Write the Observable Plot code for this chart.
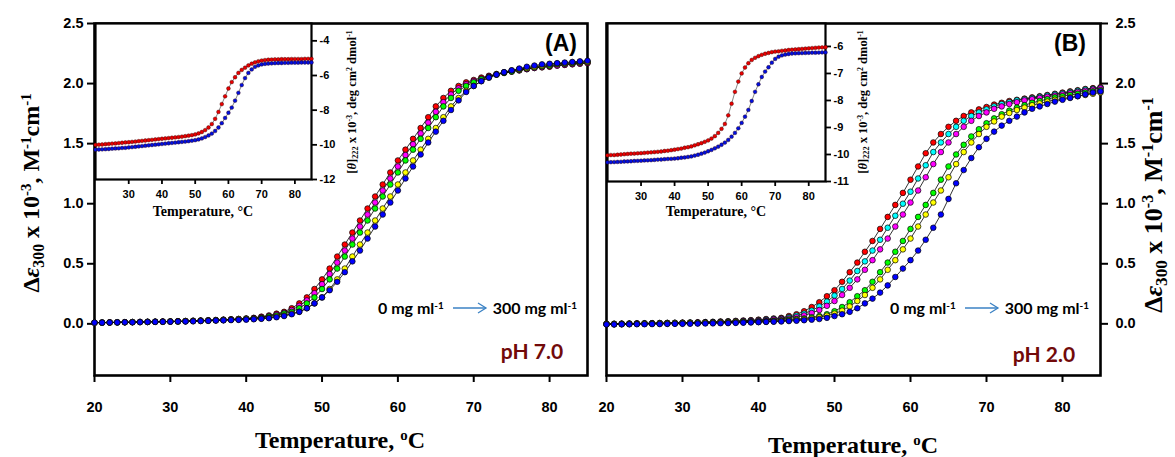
<!DOCTYPE html>
<html><head><meta charset="utf-8">
<script src="https://cdn.jsdelivr.net/npm/d3@7"></script>
<script src="https://cdn.jsdelivr.net/npm/@observablehq/plot@0.6"></script>
<style>
body{margin:0;background:#fff;}
#page{position:relative;width:1175px;height:457px;overflow:hidden;background:#fff;color:#000;font-family:"Liberation Sans",Arial,sans-serif;}
#page svg{position:absolute;top:0;}
.lbl{position:absolute;white-space:nowrap;line-height:1;transform:translate(-50%,-50%);}
.rot{transform:translate(-50%,-50%) rotate(-90deg);}
.serif{font-family:"Liberation Serif","Times New Roman",serif;font-weight:bold;}
.cal{font-family:Lato,"Open Sans",sans-serif;font-weight:bold;}
.lbl sup{font-size:0.62em;vertical-align:0.55em;line-height:0;}
.lbl sub{font-size:0.66em;vertical-align:-0.3em;line-height:0;}
</style></head><body><div id="page"></div>
<script>
// temperature grid (°C)
const temps = d3.range(20, 86);
const xTicksMain = [20, 30, 40, 50, 60, 70, 80];
const yTicksMain = [0, 0.5, 1.0, 1.5, 2.0, 2.5];
const xTicksInset = [30, 40, 50, 60, 70, 80];
const yTicksInsetA = [-12, -10, -8, -6, -4];
const yTicksInsetB = [-11, -10, -9, -8, -7, -6];

// Panel A (pH 7.0), Δε300 x 10^-3
const redA = [0.010,0.011,0.012,0.013,0.014,0.015,0.016,0.017,0.018,0.019,
0.020,0.022,0.024,0.026,0.028,0.030,0.032,0.035,0.038,0.041,
0.045,0.050,0.060,0.070,0.085,0.100,0.130,0.170,0.220,0.290,
0.37,0.46,0.56,0.66,0.76,0.86,0.96,1.06,1.16,1.26,
1.36,1.45,1.54,1.63,1.72,1.81,1.88,1.94,1.98,2.01,
2.03,2.05,2.065,2.08,2.09,2.10,2.11,2.12,2.13,2.135,
2.14,2.15,2.155,2.16,2.165,2.17];
const magentaA = [0.010,0.011,0.012,0.013,0.014,0.015,0.016,0.017,0.018,0.019,
0.020,0.021,0.023,0.025,0.027,0.029,0.031,0.034,0.037,0.040,
0.043,0.048,0.055,0.065,0.078,0.092,0.115,0.150,0.195,0.255,
0.33,0.415,0.51,0.61,0.71,0.81,0.91,1.01,1.11,1.21,
1.31,1.405,1.495,1.585,1.675,1.765,1.845,1.91,1.96,1.995,
2.02,2.04,2.06,2.075,2.088,2.10,2.11,2.12,2.13,2.137,
2.145,2.15,2.157,2.163,2.168,2.173];
const greenA = [0.010,0.010,0.011,0.012,0.013,0.014,0.015,0.016,0.017,0.018,
0.019,0.020,0.022,0.024,0.026,0.028,0.030,0.032,0.035,0.038,
0.041,0.045,0.050,0.060,0.070,0.085,0.100,0.130,0.170,0.220,
0.29,0.37,0.46,0.56,0.66,0.76,0.86,0.96,1.06,1.16,
1.26,1.36,1.45,1.54,1.63,1.72,1.81,1.88,1.94,1.98,
2.01,2.035,2.055,2.075,2.09,2.10,2.115,2.125,2.135,2.145,
2.15,2.16,2.165,2.17,2.175,2.18];
const yellowA = [0.010,0.010,0.011,0.012,0.013,0.014,0.015,0.016,0.017,0.018,
0.019,0.020,0.021,0.023,0.025,0.027,0.029,0.031,0.034,0.037,
0.040,0.041,0.045,0.050,0.060,0.070,0.085,0.100,0.130,0.170,
0.22,0.29,0.37,0.46,0.56,0.66,0.76,0.86,0.96,1.06,
1.16,1.26,1.36,1.45,1.54,1.63,1.72,1.81,1.88,1.94,
1.98,2.02,2.05,2.075,2.095,2.11,2.12,2.13,2.14,2.15,
2.16,2.165,2.17,2.175,2.18,2.182];
const blueA = [0.010,0.010,0.011,0.012,0.013,0.013,0.014,0.015,0.016,0.017,
0.018,0.019,0.020,0.021,0.023,0.025,0.027,0.029,0.031,0.033,
0.035,0.038,0.042,0.047,0.055,0.065,0.080,0.100,0.130,0.170,
0.22,0.28,0.35,0.43,0.52,0.61,0.71,0.81,0.91,1.01,
1.11,1.21,1.31,1.41,1.51,1.60,1.69,1.78,1.86,1.93,
1.98,2.02,2.05,2.075,2.095,2.11,2.125,2.14,2.15,2.16,
2.165,2.17,2.175,2.18,2.185,2.19];

// Panel B (pH 2.0)
const redB = [0.000,0.001,0.002,0.003,0.004,0.005,0.006,0.007,0.008,0.009,
0.010,0.011,0.013,0.015,0.017,0.020,0.022,0.025,0.028,0.031,
0.035,0.040,0.045,0.050,0.065,0.080,0.105,0.140,0.180,0.230,
0.28,0.35,0.43,0.51,0.60,0.69,0.79,0.89,0.99,1.09,
1.20,1.31,1.42,1.51,1.58,1.64,1.69,1.73,1.76,1.785,
1.805,1.825,1.84,1.855,1.865,1.875,1.885,1.895,1.905,1.915,
1.925,1.935,1.945,1.955,1.962,1.97];
const cyanB = [0.000,0.000,0.001,0.002,0.003,0.004,0.005,0.006,0.007,0.008,
0.009,0.010,0.011,0.013,0.015,0.017,0.019,0.021,0.024,0.027,
0.030,0.035,0.040,0.045,0.055,0.068,0.085,0.110,0.145,0.185,
0.235,0.29,0.36,0.44,0.52,0.61,0.70,0.80,0.90,1.00,
1.10,1.21,1.32,1.43,1.51,1.58,1.64,1.69,1.73,1.76,
1.785,1.81,1.83,1.845,1.86,1.87,1.88,1.89,1.90,1.91,
1.92,1.93,1.94,1.95,1.957,1.965];
const magentaB = [-0.002,-0.001,0.000,0.001,0.002,0.003,0.004,0.005,0.006,0.007,
0.008,0.009,0.010,0.011,0.013,0.015,0.017,0.019,0.021,0.023,
0.025,0.030,0.035,0.040,0.045,0.055,0.070,0.090,0.115,0.150,
0.19,0.24,0.30,0.37,0.45,0.53,0.62,0.71,0.81,0.91,
1.01,1.11,1.22,1.33,1.43,1.51,1.58,1.64,1.69,1.73,
1.76,1.79,1.81,1.83,1.845,1.86,1.87,1.88,1.89,1.90,
1.91,1.92,1.93,1.94,1.95,1.96];
const greenB = [-0.003,-0.003,-0.002,-0.001,0.000,0.001,0.002,0.003,0.004,0.005,
0.006,0.007,0.008,0.009,0.010,0.011,0.012,0.014,0.016,0.018,
0.020,0.022,0.025,0.030,0.035,0.040,0.045,0.055,0.065,0.080,
0.105,0.14,0.18,0.23,0.28,0.35,0.43,0.51,0.60,0.69,
0.79,0.89,0.99,1.09,1.20,1.31,1.41,1.49,1.56,1.62,
1.67,1.71,1.745,1.775,1.80,1.82,1.84,1.855,1.87,1.885,
1.895,1.905,1.915,1.925,1.935,1.945];
const yellowB = [-0.004,-0.004,-0.003,-0.002,-0.001,0.000,0.001,0.002,0.003,0.004,
0.005,0.006,0.007,0.008,0.009,0.010,0.011,0.012,0.013,0.014,
0.015,0.018,0.020,0.024,0.028,0.033,0.038,0.045,0.055,0.068,
0.085,0.11,0.145,0.19,0.24,0.30,0.37,0.45,0.53,0.62,
0.71,0.81,0.91,1.01,1.11,1.22,1.33,1.43,1.51,1.58,
1.64,1.685,1.725,1.755,1.78,1.80,1.82,1.835,1.85,1.865,
1.875,1.885,1.895,1.905,1.915,1.925];
const blueB = [-0.005,-0.005,-0.004,-0.004,-0.003,-0.003,-0.002,-0.002,-0.001,0.000,
0.000,0.001,0.002,0.003,0.004,0.005,0.006,0.008,0.010,0.012,
0.014,0.016,0.018,0.020,0.023,0.026,0.030,0.035,0.040,0.050,
0.065,0.08,0.10,0.13,0.17,0.21,0.26,0.32,0.39,0.46,
0.53,0.61,0.70,0.80,0.91,1.04,1.17,1.28,1.38,1.47,
1.54,1.60,1.65,1.69,1.725,1.76,1.79,1.81,1.83,1.85,
1.865,1.88,1.895,1.91,1.925,1.935];

// Insets: [θ]222 x 10^-3
const insetRedA = [-10.00,-9.99,-9.98,-9.96,-9.95,-9.93,-9.92,-9.90,-9.88,-9.86,
-9.85,-9.83,-9.81,-9.79,-9.77,-9.75,-9.73,-9.71,-9.69,-9.67,
-9.65,-9.63,-9.61,-9.59,-9.57,-9.55,-9.53,-9.50,-9.47,-9.44,
-9.40,-9.34,-9.26,-9.15,-9.00,-8.80,-8.50,-8.10,-7.65,-7.20,
-6.75,-6.38,-6.10,-5.85,-5.68,-5.55,-5.42,-5.32,-5.24,-5.18,
-5.14,-5.11,-5.09,-5.08,-5.07,-5.07,-5.06,-5.06,-5.06,-5.05,
-5.05,-5.05,-5.05,-5.04,-5.04,-5.04];
const insetBlueA = [-10.28,-10.27,-10.26,-10.25,-10.24,-10.22,-10.21,-10.20,-10.18,-10.17,
-10.15,-10.13,-10.11,-10.09,-10.07,-10.05,-10.03,-10.01,-9.99,-9.97,
-9.95,-9.93,-9.91,-9.89,-9.87,-9.85,-9.83,-9.81,-9.79,-9.76,
-9.73,-9.69,-9.63,-9.55,-9.46,-9.35,-9.20,-9.00,-8.75,-8.45,
-8.15,-7.85,-7.45,-7.00,-6.55,-6.15,-5.85,-5.65,-5.50,-5.42,
-5.36,-5.33,-5.31,-5.30,-5.29,-5.28,-5.28,-5.27,-5.27,-5.26,
-5.26,-5.26,-5.25,-5.25,-5.25,-5.25];
const insetRedB = [-10.03,-10.02,-10.02,-10.01,-10.00,-9.99,-9.98,-9.97,-9.965,-9.955,
-9.95,-9.94,-9.93,-9.92,-9.91,-9.90,-9.89,-9.87,-9.86,-9.84,
-9.82,-9.80,-9.78,-9.75,-9.73,-9.70,-9.66,-9.62,-9.58,-9.53,
-9.48,-9.41,-9.32,-9.20,-9.05,-8.87,-8.55,-8.12,-7.68,-7.30,
-7.00,-6.78,-6.62,-6.50,-6.42,-6.36,-6.31,-6.27,-6.24,-6.21,
-6.19,-6.18,-6.16,-6.15,-6.13,-6.12,-6.11,-6.10,-6.09,-6.08,
-6.07,-6.06,-6.05,-6.04,-6.035,-6.03];
const insetBlueB = [-10.29,-10.285,-10.28,-10.275,-10.27,-10.26,-10.255,-10.25,-10.24,-10.235,
-10.23,-10.22,-10.215,-10.21,-10.20,-10.19,-10.185,-10.175,-10.165,-10.16,
-10.15,-10.14,-10.12,-10.11,-10.09,-10.07,-10.04,-10.01,-9.97,-9.93,
-9.88,-9.83,-9.77,-9.71,-9.64,-9.56,-9.46,-9.34,-9.20,-9.03,
-8.83,-8.60,-8.35,-8.02,-7.68,-7.40,-7.13,-6.93,-6.77,-6.60,
-6.46,-6.38,-6.33,-6.30,-6.28,-6.26,-6.255,-6.25,-6.245,-6.24,
-6.235,-6.23,-6.23,-6.225,-6.22,-6.22];

const RED = "#ff0000", MAG = "#ff00ff", GRN = "#00ff00", YEL = "#ffff00", BLU = "#0000ff", CYN = "#00ffff";
const seriesA = [["red", RED, redA], ["magenta", MAG, magentaA], ["green", GRN, greenA], ["yellow", YEL, yellowA], ["blue", BLU, blueA]];
const seriesB = [["red", RED, redB], ["cyan", CYN, cyanB], ["magenta", MAG, magentaB], ["green", GRN, greenB], ["yellow", YEL, yellowB], ["blue", BLU, blueB]];
const insetA = [["red", "#e80000", insetRedA], ["blue", "#0010e0", insetBlueA]];
const insetB = [["red", "#e80000", insetRedB], ["blue", "#0010e0", insetBlueB]];

const table = (series) => series.flatMap(([name, col, vals]) => vals.map((v, i) => ({t: temps[i], v, name, col})));
const fmt1 = d3.format(".1f");
const fmtH = (d) => String(d);
const baseStyle = {background: "none", fontFamily: "'Liberation Sans', Arial, sans-serif", overflow: "visible", color: "black"};

function mainPlot(series, opts) {
  const data = table(series);
  return Plot.plot({
    width: opts.width, height: 457,
    marginLeft: opts.ml, marginRight: opts.mr, marginTop: 23, marginBottom: 82,
    style: baseStyle,
    x: {domain: [20, 85]}, y: {domain: [-0.43, 2.5]}, color: {type: "identity"},
    marks: [
      Plot.frame({stroke: "black", strokeWidth: 2.6}),
      Plot.axisX({ticks: xTicksMain, tickSize: 7, tickPadding: 19, strokeWidth: 2, fontSize: 14.5, fontWeight: "bold", label: null}),
      Plot.axisY({anchor: opts.yAnchor, ticks: yTicksMain, tickFormat: fmt1, tickSize: 7, tickPadding: opts.yPad, strokeWidth: 2, fontSize: 14.5, fontWeight: "bold", label: null}),
      Plot.line(data, {x: "t", y: "v", z: "name", stroke: "black", strokeWidth: 0.8}),
      Plot.dot(data, {x: "t", y: "v", fill: "col", stroke: "black", strokeWidth: 0.7, r: 2.8})
    ]
  });
}

function insetPlot(series, opts) {
  const data = table(series);
  return Plot.plot({
    width: 420, height: 240,
    marginLeft: opts.ml, marginRight: opts.mr, marginTop: 23, marginBottom: opts.mb,
    style: baseStyle,
    x: {domain: [20, 85]}, y: {domain: opts.yDomain}, color: {type: "identity"},
    marks: [
      Plot.frame({fill: "white", stroke: "black", strokeWidth: 2.2}),
      Plot.axisX({ticks: xTicksInset, tickSize: 5, tickPadding: 6, strokeWidth: 1.8, fontSize: 11, fontWeight: "bold", label: null}),
      Plot.axisY({anchor: "right", ticks: opts.yTicks, tickFormat: fmtH, tickSize: 5, tickPadding: 3, strokeWidth: 1.8, fontSize: 11, fontWeight: "bold", label: null}),
      Plot.line(data, {x: "t", y: "v", z: "name", stroke: "#333", strokeWidth: 0.6}),
      Plot.dot(data, {x: "t", y: "v", fill: "col", stroke: "#300", strokeWidth: 0.4, r: 1.9})
    ]
  });
}

const page = document.getElementById("page");
function place(el, left) { el.style.left = left + "px"; el.style.position = "absolute"; el.style.top = "0px"; page.appendChild(el); }

place(mainPlot(seriesA, {width: 600, ml: 94, mr: 13, yAnchor: "left", yPad: 4}), 0);
place(mainPlot(seriesB, {width: 595, ml: 26, mr: 75, yAnchor: "right", yPad: 8}), 580);
place(insetPlot(insetA, {ml: 95, mr: 109, mb: 61, yDomain: [-12, -3], yTicks: yTicksInsetA}), 0);
place(insetPlot(insetB, {ml: 27, mr: 175, mb: 59, yDomain: [-11, -5.15], yTicks: yTicksInsetB}), 580);

function label(html, x, y, cls, css) {
  const d = document.createElement("div");
  d.className = "lbl " + (cls || "");
  d.innerHTML = html;
  d.style.left = x + "px"; d.style.top = y + "px";
  Object.assign(d.style, css || {});
  page.appendChild(d);
  return d;
}

const yMainLabel = "Δ<i>ε</i><sub>300</sub> x 10<sup>-3</sup>, M<sup>-1</sup>cm<sup>-1</sup>";
const xMainLabel = "Temperature, <sup>o</sup>C";
const xInsetLabel = "Temperature, °C";
const yInsetLabel = "[<i>θ</i>]<sub>222</sub> x 10<sup>-3</sup>, deg cm<sup>2</sup> dmol<sup>-1</sup>";

label(yMainLabel, 31, 193, "serif rot", {fontSize: "24px"});
label(yMainLabel, 1154, 205, "serif rot", {fontSize: "26px"});
label(xMainLabel, 340, 440, "serif", {fontSize: "24px"});
label(xMainLabel, 853, 445, "serif", {fontSize: "24px"});
label(xInsetLabel, 203, 212, "serif", {fontSize: "14px"});
label(xInsetLabel, 716, 212, "serif", {fontSize: "14px"});
label(yInsetLabel, 352, 102, "serif rot", {fontSize: "12.5px"});
label(yInsetLabel, 863, 102, "serif rot", {fontSize: "12.5px"});

label("(A)", 561, 43, "", {fontSize: "23px", fontWeight: "bold"});
label("(B)", 1070, 43, "", {fontSize: "23px", fontWeight: "bold"});
label("pH 7.0", 532, 350, "cal", {fontSize: "21px", color: "#720a0a"});
label("pH 2.0", 1044, 353, "cal", {fontSize: "21px", color: "#720a0a"});

const startTxt = "0 mg ml<sup>-1</sup>";
const endTxt = "300 mg ml<sup>-1</sup>";
function legend(x0, xa0, xa1, x1, y) {
  label(startTxt, x0, y, "cal", {fontSize: "16px", transform: "translate(0,-50%)"});
  label(endTxt, x1, y, "cal", {fontSize: "16px", transform: "translate(-100%,-50%)"});
  const ns = "http://www.w3.org/2000/svg";
  const s = document.createElementNS(ns, "svg");
  const w = xa1 - xa0;
  s.setAttribute("width", w + 2); s.setAttribute("height", 14);
  s.style.left = xa0 + "px"; s.style.top = (y - 7) + "px";
  s.innerHTML = `<line x1="0" y1="7" x2="${w}" y2="7" stroke="#3b82c4" stroke-width="1.3"/><polyline points="${w - 8},2 ${w},7 ${w - 8},12" fill="none" stroke="#3b82c4" stroke-width="1.3"/>`;
  page.appendChild(s);
}
legend(378, 453, 486, 577, 308);
legend(890, 965, 998, 1089, 308);
</script></body></html>
